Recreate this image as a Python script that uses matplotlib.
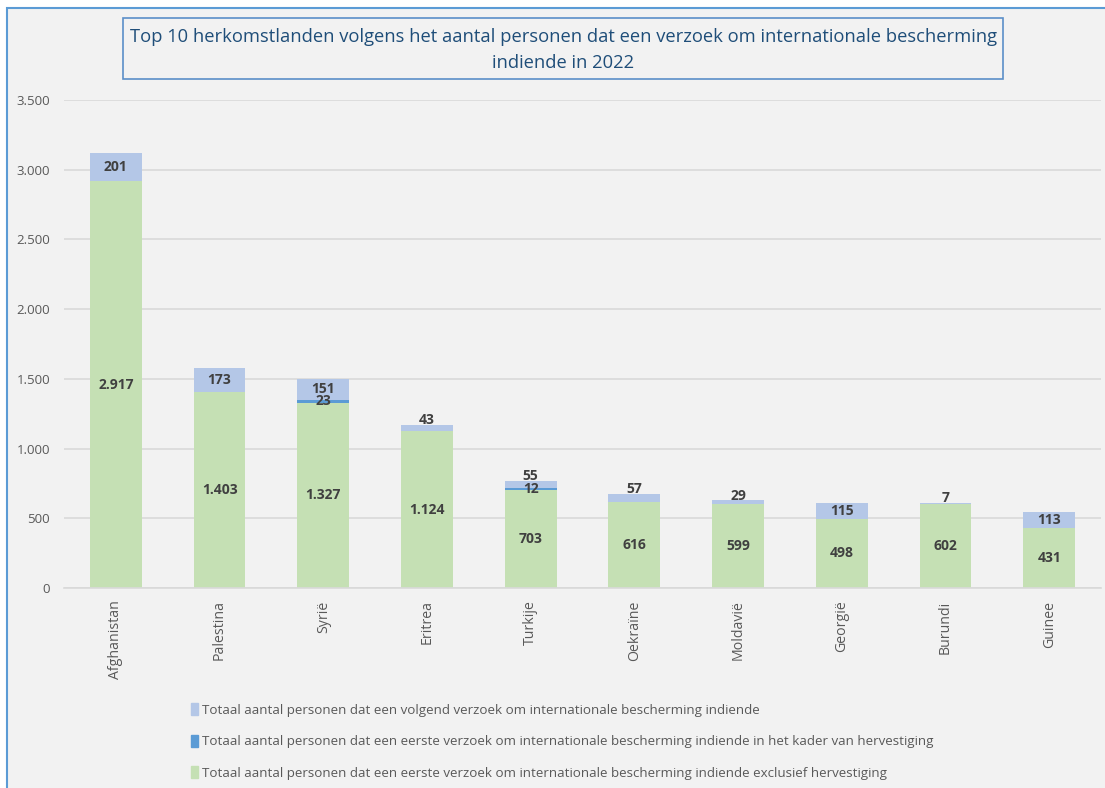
import matplotlib.pyplot as plt
from matplotlib.patches import Patch, Rectangle
import numpy as np

plt.rcParams['font.family'] = ['Open Sans', 'DejaVu Sans']

# data
countries = ['Afghanistan', 'Palestina', 'Syrië', 'Eritrea', 'Turkije',
             'Oekraïne', 'Moldavië', 'Georgië', 'Burundi', 'Guinee']
exclusief = [2917, 1403, 1327, 1124, 703, 616, 599, 498, 602, 431]
hervestiging = [0, 0, 23, 0, 12, 0, 0, 0, 0, 0]
volgend = [201, 173, 151, 43, 55, 57, 29, 115, 7, 113]

labels = ['Totaal aantal personen dat een volgend verzoek om internationale bescherming indiende',
          'Totaal aantal personen dat een eerste verzoek om internationale bescherming indiende in het kader van hervestiging',
          'Totaal aantal personen dat een eerste verzoek om internationale bescherming indiende exclusief hervestiging']
title = 'Top 10 herkomstlanden volgens het aantal personen dat een verzoek om internationale bescherming\nindiende in 2022'

c_green = '#c5e0b4'
c_dark = '#5b9bd5'
c_light = '#b4c7e7'
bg = '#f2f2f2'


def fmt(v):
    return f'{v:,}'.replace(',', '.')


W, H = 1105, 788
fig = plt.figure(figsize=(W / 100, H / 100), dpi=100, facecolor='white')

# chart area background + border
fig.patches.append(Rectangle((7 / W, -0.01), 1.0, 1 - 8 / H + 0.01, transform=fig.transFigure,
                             facecolor=bg, edgecolor='#5b9bd5', linewidth=1.5, zorder=-2))

ax = fig.add_axes([64 / W, 1 - 588 / H, (1101 - 64) / W, (588 - 100) / H])
ax.set_zorder(2)
ax.set_facecolor(bg)

x = np.arange(len(countries))
excl = np.array(exclusief)
herv = np.array(hervestiging)
volg = np.array(volgend)
bw = 0.5

ax.bar(x, excl, bw, color=c_green, zorder=2)
ax.bar(x, herv, bw, bottom=excl, color=c_dark, zorder=2)
ax.bar(x, volg, bw, bottom=excl + herv, color=c_light, zorder=2)

lab = dict(ha='center', va='center', fontsize=10, fontweight='bold', color='#404040', zorder=3)
for i in range(len(x)):
    ax.text(x[i], excl[i] / 2, fmt(excl[i]), **lab)
    if herv[i] > 0:
        ax.text(x[i], excl[i] + herv[i] / 2, fmt(herv[i]), **lab)
    top = excl[i] + herv[i] + volg[i]
    if volg[i] >= 100:
        ax.text(x[i], excl[i] + herv[i] + volg[i] / 2, fmt(volg[i]), **lab)
    else:
        ax.text(x[i], top + 35, fmt(volg[i]), **lab)

ax.set_ylim(0, 3500)
ax.set_xlim(-0.5, len(x) - 0.5)
ax.set_yticks(np.arange(0, 3501, 500))
ax.set_yticklabels([fmt(v) for v in range(0, 3501, 500)])
ax.yaxis.grid(True, color='#d9d9d9', linewidth=1.2, zorder=0)
ax.set_axisbelow(True)
ax.set_xticks(x)
ax.set_xticklabels(countries, rotation=90)
ax.tick_params(axis='y', length=0, pad=10, labelsize=9.5, labelcolor='#595959')
ax.tick_params(axis='x', length=0, pad=9, labelsize=10.2, labelcolor='#595959')
for s in ['top', 'right', 'left']:
    ax.spines[s].set_visible(False)
ax.spines['bottom'].set_color('#d9d9d9')
ax.spines['bottom'].set_linewidth(1.2)

# title box
fig.patches.append(Rectangle((123 / W, 1 - 79 / H), (1003 - 123) / W, 61 / H, transform=fig.transFigure,
                             facecolor=bg, edgecolor='#5b8fc8', linewidth=1.2, zorder=1))
fig.text(563 / W, 1 - 50 / H, title, ha='center', va='center', fontsize=13.2,
         color='#1f4e79', linespacing=1.6)

handles = [Patch(color=c_light), Patch(color=c_dark), Patch(color=c_green)]
fig.legend(handles, labels, loc='upper left', bbox_to_anchor=(186 / W, 1 - 698 / H), frameon=False,
           fontsize=9.6, labelcolor='#595959', handlelength=0.5, handleheight=1.0,
           handletextpad=0.3, labelspacing=1.35, borderaxespad=0)

fig.savefig('out.png', dpi=100, facecolor='white')
